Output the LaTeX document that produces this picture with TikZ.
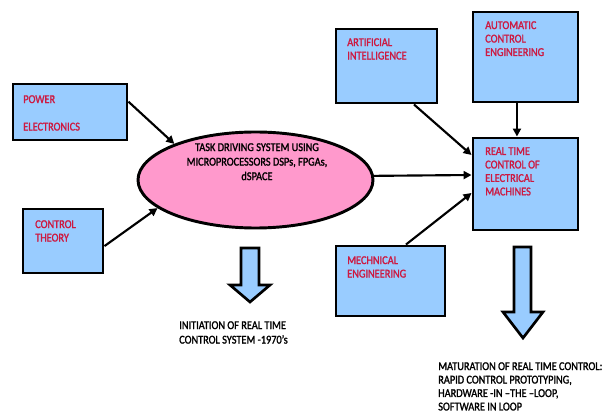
\documentclass[tikz,border=0pt]{standalone}
\usepackage{fontspec}
\setmainfont{Carlito}[FakeStretch=0.86,FakeBold=1.5]
\usetikzlibrary{shapes.geometric,arrows.meta,calc}
\definecolor{boxblue}{RGB}{153,204,255}
\definecolor{boxred}{RGB}{205,25,65}
\definecolor{ellpink}{RGB}{255,153,204}
\tikzset{
  box/.style={draw=black, line width=2.2pt, fill=boxblue, rectangle, inner sep=0pt},
  redtxt/.style={text=boxred, font=\fontsize{9}{10.1}\selectfont, align=left, anchor=north west, inner sep=0pt},
  blktxt/.style={text=black, font=\fontsize{9}{10.9}\selectfont, inner sep=0pt},
  arr/.style={draw=black, line width=1.6pt, -{Triangle[length=6pt,width=6pt]}},
  blockarrow/.style={draw=black, line width=2pt, fill=boxblue, line join=miter}
}
\begin{document}
\begin{tikzpicture}[x=0.75pt,y=-0.75pt]
\useasboundingbox (0,0) rectangle (607,413);
\fill[white] (0,0) rectangle (607,413);
% boxes
\node[box, minimum width=85.5pt, minimum height=42pt] (pe) at (70,112) {};
\node[box, minimum width=60pt, minimum height=48pt] (ct) at (63,241) {};
\node[box, minimum width=75.75pt, minimum height=55.5pt] (ai) at (386.5,66) {};
\node[box, minimum width=78.75pt, minimum height=67.5pt] (ac) at (525.5,57) {};
\node[box, minimum width=78.75pt, minimum height=69pt] (rt) at (525.5,184) {};
\node[box, minimum width=81.75pt, minimum height=52.5pt] (me) at (390.5,281) {};
\node[ellipse, draw=black, line width=2.2pt, fill=ellpink, minimum width=176.25pt, minimum height=72pt, inner sep=0pt] (ell) at (255.5,180) {};
% texts
\node[redtxt] (tpe) at (23,95) {POWER\\[10.5pt]ELECTRONICS};
\node[redtxt] (tct) at (35,220) {CONTROL\\THEORY};
\node[redtxt] (tai) at (347,38) {ARTIFICIAL\\INTELLIGENCE};
\node[redtxt] (tac) at (485,21) {AUTOMATIC\\CONTROL\\ENGINEERING};
\node[redtxt] (trt) at (485,147) {REAL TIME\\CONTROL OF\\ELECTRICAL\\MACHINES};
\node[redtxt] (tme) at (347,256) {MECHNICAL\\ENGINEERING};
\node[blktxt, align=center, anchor=north] (tell) at (257,143) {TASK DRIVING SYSTEM USING\\MICROPROCESSORS DSPs, FPGAs,\\dSPACE};
\node[blktxt, align=left, anchor=north west] (tin) at (179,321) {INITIATION OF REAL TIME\\CONTROL SYSTEM -1970's};
\node[blktxt, align=left, anchor=north west, font=\fontsize{9}{10.1}\selectfont] (tma) at (438,362) {MATURATION OF REAL TIME CONTROL:\\RAPID CONTROL PROTOTYPING,\\HARDWARE -IN --THE --LOOP,\\SOFTWARE IN LOOP};
% connectors
\draw[arr] (pe.10) -- (ell.156);
\draw[arr] (ct.-7) -- (ell.196);
\draw[arr] ([xshift=20.6pt]ai.south) -- ([yshift=21.75pt]rt.west);
\draw[arr] ([xshift=-6.4pt]ac.south) -- ([xshift=-6.4pt]rt.north);
\draw[arr] (ell.2.4) -- ([yshift=6.75pt]rt.west);
\draw[arr] ([xshift=11.6pt]me.north) -- ([yshift=-6.75pt]rt.west);
% block arrows
\draw[blockarrow] (241,248) -- (259,248) -- (259,285) -- (270,285) -- (250,302) -- (230,285) -- (241,285) -- cycle;
\draw[blockarrow] (514,247) -- (531,247) -- (531,312) -- (543,312) -- (523,338) -- (503,312) -- (514,312) -- cycle;
\end{tikzpicture}
\end{document}
